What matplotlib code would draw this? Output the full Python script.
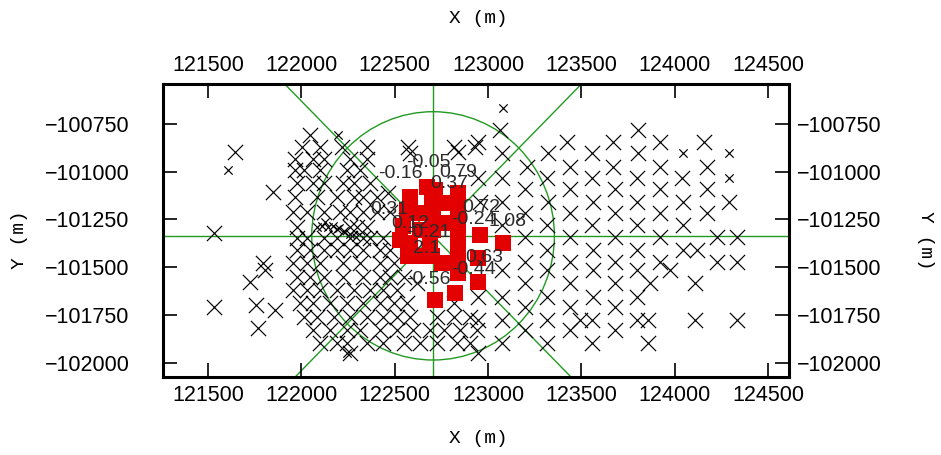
import matplotlib
matplotlib.use("Agg")
import matplotlib.pyplot as plt
from matplotlib.patches import Circle

# ================== data ==================
# station grid, big crosses
cross_x = [
    # isolated west points
    121645, 121846, 121532, 121796, 121805, 121725, 121532, 121757, 121859, 121766,
    # west cloud, row by row
    122047,
    122002, 122100, 122216, 122350, 122573, 122815, 122931,
    121966, 122064, 122118, 122261, 122350,
    121966, 122011, 122100, 122243, 122314,
    121975, 122064, 122118, 122225, 122279, 122368,
    121966, 122082, 122189, 122279, 122332, 122404,
    121957, 122029, 122118, 122207, 122261, 122332, 122404, 122475,
    121975, 122261, 122297, 122350,
    121975, 122029, 122118, 122189, 122261, 122332, 122368, 122439,
    121975, 122047, 122118, 122189, 122261, 122332, 122422, 122475,
    121957, 122029, 122100, 122225, 122314, 122422, 122493,
    121975, 122047, 122118, 122225, 122332, 122422, 122475, 122547,
    121957, 122029, 122100, 122189, 122279, 122368, 122439, 122511,
    121993, 122064, 122154, 122243, 122332, 122422, 122493, 122564, 122815,
    122011, 122082, 122172, 122261, 122350, 122439, 122511, 122582, 122725, 122815, 122904,
    122064, 122154, 122243, 122314, 122422, 122511, 122600, 122689, 122761, 122850, 122939,
    122100, 122189, 122243, 122350, 122439, 122547, 122636, 122725, 122832, 122904,
    122261,
    # around the centre
    122582, 122841, 122466, 122617,
    # east grid, row by row
    123064, 123805,
    122948, 123421, 123671, 123921, 124154,
    123073, 123323, 123555, 123805,
    123207, 123439, 123671, 123921, 124171,
    122948, 123073, 123314, 123555, 123796, 124037,
    123198, 123439, 123680, 123921, 124171,
    122957, 123073, 123323, 123564, 123796, 124046, 124288,
    123198, 123439, 123680, 123921, 124171,
    123073, 123314, 123555, 123796, 124046,
    123198, 123439, 123680, 123921, 124225, 124332,
    123314, 123564, 123796, 124046, 124118,
    123198, 123439, 123680, 123921, 124225, 124332,
    123073, 123314, 123564, 123796, 123975,
    123198, 123439, 123680, 123868, 124109,
    122948, 123073, 123314, 123564, 123796,
    123198, 123439, 123680,
    122948, 123073, 123314, 123493, 123555, 123796, 123859, 124109, 124332,
    123198, 123439, 123680,
    123073, 123314, 123555, 123859,
    122948,
]
cross_y = [
    -100895, -101104, -101322, -101479, -101514, -101576, -101710, -101698, -101724, -101820,
    -100808,
    -100869, -100869, -100869, -100869, -100869, -100869, -100869,
    -100935, -100935, -100935, -100935, -100935,
    -100991, -100991, -100991, -100991, -100991,
    -101061, -101061, -101061, -101061, -101061, -101061,
    -101130, -101130, -101130, -101130, -101130, -101130,
    -101209, -101209, -101209, -101209, -101209, -101209, -101209, -101209,
    -101288, -101288, -101288, -101288,
    -101349, -101349, -101349, -101349, -101349, -101349, -101349, -101349,
    -101410, -101410, -101410, -101410, -101410, -101410, -101410, -101410,
    -101479, -101479, -101479, -101479, -101479, -101479, -101479,
    -101549, -101549, -101549, -101549, -101549, -101549, -101549, -101549,
    -101619, -101619, -101619, -101619, -101619, -101619, -101619, -101619,
    -101689, -101689, -101689, -101689, -101689, -101689, -101689, -101689, -101689,
    -101759, -101759, -101759, -101759, -101759, -101759, -101759, -101759, -101759, -101759, -101759,
    -101828, -101828, -101828, -101828, -101828, -101828, -101828, -101828, -101828, -101828, -101828,
    -101898, -101898, -101898, -101898, -101898, -101898, -101898, -101898, -101898, -101898,
    -101951,
    -100904, -100895, -101113, -101584,
    -100781, -100781,
    -100843, -100843, -100843, -100843, -100843,
    -100904, -100904, -100904, -100904,
    -100973, -100973, -100973, -100973, -100973,
    -101034, -101034, -101034, -101034, -101034, -101034,
    -101090, -101090, -101090, -101090, -101090,
    -101160, -101160, -101160, -101160, -101160, -101160, -101160,
    -101218, -101218, -101218, -101218, -101218,
    -101279, -101279, -101279, -101279, -101279,
    -101340, -101340, -101340, -101340, -101340, -101340,
    -101410, -101410, -101410, -101410, -101410,
    -101471, -101471, -101471, -101471, -101471, -101471,
    -101514, -101514, -101514, -101514, -101514,
    -101584, -101584, -101584, -101584, -101584,
    -101654, -101654, -101654, -101654, -101654,
    -101706, -101706, -101706,
    -101776, -101776, -101776, -101776, -101776, -101776, -101776, -101776, -101776,
    -101828, -101828, -101828,
    -101898, -101898, -101898, -101898,
    -101951,
]

# small crosses
small_x = [121609, 122198, 122082, 122110, 122125, 122140, 122170, 122190, 122200,
           122230, 122260, 122290, 123082, 124046, 124288, 124288, 122243]
small_y = [-100991, -100808, -101288, -101283, -101265, -101292, -101285, -101300, -101295,
           -101310, -101325, -101340, -100668, -100904, -100904, -101034, -101951]

# red squares (events)
sq_x = [122716, 122823, 122948, 122948, 122957, 123082,
        122841, 122841, 122841, 122841, 122841, 122841, 122841, 122841, 122841,
        122716, 122698, 122707, 122707, 122689, 122698,
        122582, 122564, 122546, 122528, 122582, 122573, 122618, 122636, 122627,
        122761, 122769, 122752, 122671]
sq_y = [-101671, -101636, -101575, -101453, -101331, -101374,
        -101113, -101165, -101217, -101270, -101322, -101374, -101427, -101479, -101531,
        -101095, -101165, -101235, -101305, -101374, -101444,
        -101130, -101200, -101287, -101357, -101374, -101444, -101444, -101305, -101217,
        -101270, -101165, -101479, -101078]

# magnitude labels
lbl_text = ["-0.05", "-0.16", "0.79", "0.37", "0.31", "0.72", "1.08",
            "0.63", "-0.44", "-0.56", "2.1", "-0.24", "0.12", "-0.21"]
lbl_x = [122560, 122410, 122740, 122690, 122370, 122860, 123000,
         122880, 122800, 122560, 122600, 122800, 122480, 122560]
lbl_y = [-100950, -101010, -101005, -101060, -101200, -101190, -101262,
         -101450, -101510, -101565, -101400, -101250, -101270, -101320]

# reference cross and circle
center_x = 122705
center_y = -101336
radius = 650

x_ticks = [121500, 122000, 122500, 123000, 123500, 124000, 124500]
y_ticks = [-102000, -101750, -101500, -101250, -101000, -100750]

# ================== plot ==================
plt.rcParams['font.family'] = ['Liberation Sans', 'DejaVu Sans']
plt.rcParams['axes.unicode_minus'] = True

fig = plt.figure(figsize=(9.41, 4.55), dpi=100)
ax = fig.add_axes([0.173, 0.1714, 0.6655, 0.6440])
ax.set_xlim(121257, 124612)
ax.set_ylim(-102075, -100541)

green = "#229a22"
ax.axhline(center_y, color=green, lw=1.0, zorder=1)
ax.axvline(center_x, color=green, lw=1.0, zorder=1)
ax.plot([center_x - 4000, center_x + 4000], [center_y - 4000, center_y + 4000], color=green, lw=1.0, zorder=1)
ax.plot([center_x - 4000, center_x + 4000], [center_y + 4000, center_y - 4000], color=green, lw=1.0, zorder=1)
ax.add_patch(Circle((center_x, center_y), radius, fill=False, ec=green, lw=1.0, zorder=1))

ax.scatter(cross_x, cross_y, marker='x', s=120, c='black', linewidths=0.85, zorder=2)
ax.scatter(small_x, small_y, marker='x', s=36, c='black', linewidths=0.85, zorder=2)
ax.scatter(sq_x, sq_y, marker='s', s=130, c='#e30000', linewidths=0, zorder=3)

for t, x, y in zip(lbl_text, lbl_x, lbl_y):
    ax.text(x, y, t, fontsize=14, color='#2b2b2b', ha='left', va='center', zorder=4)

for s in ax.spines.values():
    s.set_linewidth(2.2)

ax.set_xticks(x_ticks)
ax.set_yticks(y_ticks)
ax.tick_params(direction='in', length=10, width=1.2, top=True, right=True,
               labelsize=15.5, colors='black')
ax.tick_params(axis='x', pad=6)
ax.tick_params(axis='y', pad=24)

secx = ax.secondary_xaxis('top')
secx.set_xticks(x_ticks)
secx.tick_params(length=0, pad=6, labelsize=15.5)
secx.spines['top'].set_visible(False)

secy = ax.secondary_yaxis('right')
secy.set_yticks(y_ticks)
secy.tick_params(length=0, pad=6, labelsize=15.5)
secy.spines['right'].set_visible(False)

label_font = dict(family=['Liberation Mono', 'DejaVu Sans Mono'], fontsize=14)
fig.text(0.508, 0.960, "X (m)", ha='center', va='center', **label_font)
fig.text(0.508, 0.037, "X (m)", ha='center', va='center', **label_font)
fig.text(0.021, 0.4725, "Y (m)", ha='center', va='center', rotation=90, **label_font)
fig.text(0.983, 0.4725, "Y (m)", ha='center', va='center', rotation=270, **label_font)

fig.savefig("out.png", dpi=100)
